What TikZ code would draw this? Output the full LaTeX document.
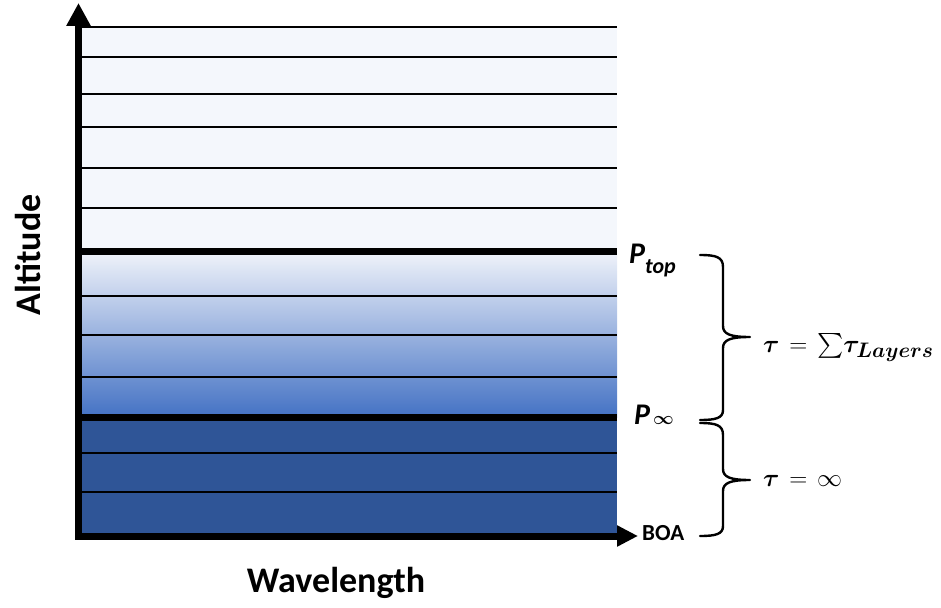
\RequirePackage{fix-cm}
\documentclass[tikz,border=0pt]{standalone}
\usepackage{amsmath}
\usepackage{bm}
\usepackage{fontspec}
\setmainfont{Carlito}
\usetikzlibrary{arrows.meta}

\definecolor{skyfill}{HTML}{F4F7FC}
\definecolor{gradtop}{HTML}{F0F3FA}
\definecolor{gradbot}{HTML}{4472C4}
\definecolor{deepfill}{HTML}{2F5597}

\begin{document}
\begin{tikzpicture}[x=1pt,y=-1pt,
  layer/.style={line width=1.8pt},
  bound/.style={line width=7pt},
  axis/.style={line width=7pt},
  curly/.style={line width=2.4pt,line join=round,line cap=round},
  axislbl/.style={font=\bfseries\fontsize{36}{40}\selectfont},
  plbl/.style={font=\bfseries\itshape\fontsize{30}{34}\selectfont,anchor=base west,inner sep=0pt},
  taulbl/.style={font=\fontsize{25}{28}\selectfont,anchor=base west,inner sep=0pt}]
  \useasboundingbox (0,0) rectangle (941,607);
  % layers
  \fill[skyfill] (82,27) rectangle (617,251);
  \shade[top color=gradtop,bottom color=gradbot] (82,251) rectangle (617,417);
  \fill[deepfill] (82,417) rectangle (617,535);
  \foreach \y in {27,57,94,127,168,208,296,335,377,453,492}
    \draw[layer] (82,\y) -- (617,\y);
  \draw[bound] (82,251) -- (617,251);
  \draw[bound] (82,417) -- (617,417);
  % axes
  \draw[axis,-{Triangle[length=23pt,width=23pt]}] (78.5,538.5) -- (78.5,3);
  \draw[axis,-{Triangle[length=21pt,width=20pt]}] (75,536) -- (638,536);
  \node[axislbl,rotate=90] (altitude) at (28,255) {Altitude};
  \node[axislbl] (wavelength) at (336,583) {Wavelength};
  % pressure levels
  \node[plbl] (ptop) at (629,263) {P\raisebox{-10pt}{\fontsize{22}{24}\selectfont top}};
  \node[plbl] (pinf) at (634,424) {P\hspace{3pt}{\fontsize{18}{20}\selectfont$\bm{\infty}$}};
  \node[font=\bfseries\fontsize{23}{26}\selectfont,anchor=base west,inner sep=0pt] (boa) at (642,540) {BOA};
  % braces
  \draw[curly] (700,255) .. controls (716,255) and (723,257) .. (723,267) -- (723,326)
    .. controls (723,334) and (730,337) .. (750,337)
    .. controls (730,337) and (723,340) .. (723,348) -- (723,410)
    .. controls (723,418) and (716,420) .. (700,420);
  \draw[curly] (700,423) .. controls (716,423) and (723,425) .. (723,435) -- (723,469)
    .. controls (723,477) and (730,480) .. (750,480)
    .. controls (730,480) and (723,483) .. (723,491) -- (723,526)
    .. controls (723,534) and (716,536) .. (700,536);
  \node[taulbl] (tausum) at (763,352)
    {$\bm{\tau}\mskip2mu=\mskip2mu\mathord{\sum}\bm{\tau}_{\mbox{\fontsize{21}{23}\selectfont$\bm{Layers}$}}$};
  \node[taulbl] (tauinf) at (763,486) {$\bm{\tau}\mskip2mu=\mskip2mu\infty$};
\end{tikzpicture}
\end{document}
